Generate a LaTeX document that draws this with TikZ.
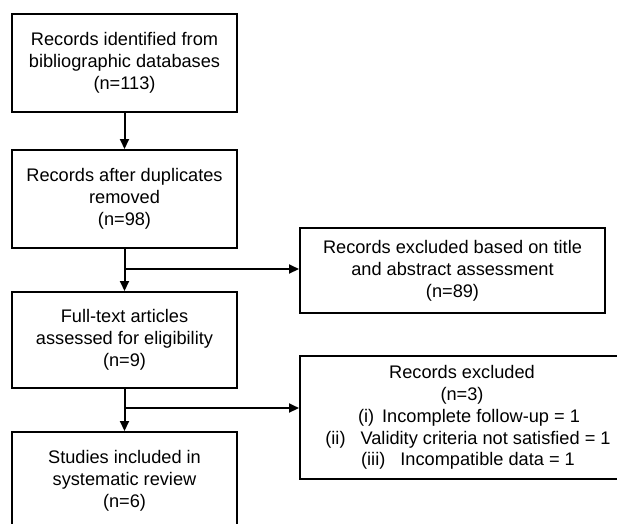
\documentclass[tikz,border=0pt]{standalone}
\usepackage{fontspec}
\setmainfont{Liberation Sans}
\usetikzlibrary{arrows.meta}
\begin{document}
\begin{tikzpicture}[x=1pt,y=-1pt,
  box/.style={draw, line width=2pt, rectangle, inner sep=0pt, align=center,
    font=\fontsize{18.2pt}{21.8pt}\selectfont},
  conn/.style={line width=2pt},
  arr/.style={conn, -{Triangle[length=10pt,width=9pt]}}]
\useasboundingbox (0,0) rectangle (617,523);
\clip (0,0) rectangle (617,523);
\fill[white] (0,0) rectangle (617,523);
\node[box, minimum width=225pt, minimum height=98pt] (b1) at (124.5,63)
  {Records identified from\\bibliographic databases\\(n=113)};
\node[box, minimum width=225pt, minimum height=98pt] (b2) at (124.5,199)
  {Records after duplicates\\removed\\(n=98)};
\node[box, minimum width=225pt, minimum height=96pt] (b3) at (124.5,340)
  {Full-text articles\\assessed for eligibility\\(n=9)};
\node[box, minimum width=225pt, minimum height=97pt] (b4) at (124.5,480.5)
  {Studies included in\\systematic review\\(n=6)};
\node[box, minimum width=305pt, minimum height=85pt] (bA) at (452.5,270.5)
  {Records excluded based on title\\and abstract assessment\\(n=89)};
\node[box, minimum width=324pt, minimum height=123pt] (bB) at (462,417.5)
  {Records excluded\\(n=3)\\\hspace*{14pt}(i)\hspace{8pt}Incomplete follow-up = 1\\
   \hspace*{12pt}(ii)\hspace{15pt}Validity criteria not satisfied = 1\\
   \hspace*{12pt}(iii)\hspace{15pt}Incompatible data = 1};
\coordinate (j1) at (124.5,269);
\coordinate (j2) at (124.5,408);
\draw[arr] (b1.south) -- (b2.north);
\draw[arr] (b2.south) -- (b3.north);
\draw[arr] (b3.south) -- (b4.north);
\draw[arr] (j1) -- (j1 -| bA.west);
\draw[arr] (j2) -- (j2 -| bB.west);
\end{tikzpicture}
\end{document}
